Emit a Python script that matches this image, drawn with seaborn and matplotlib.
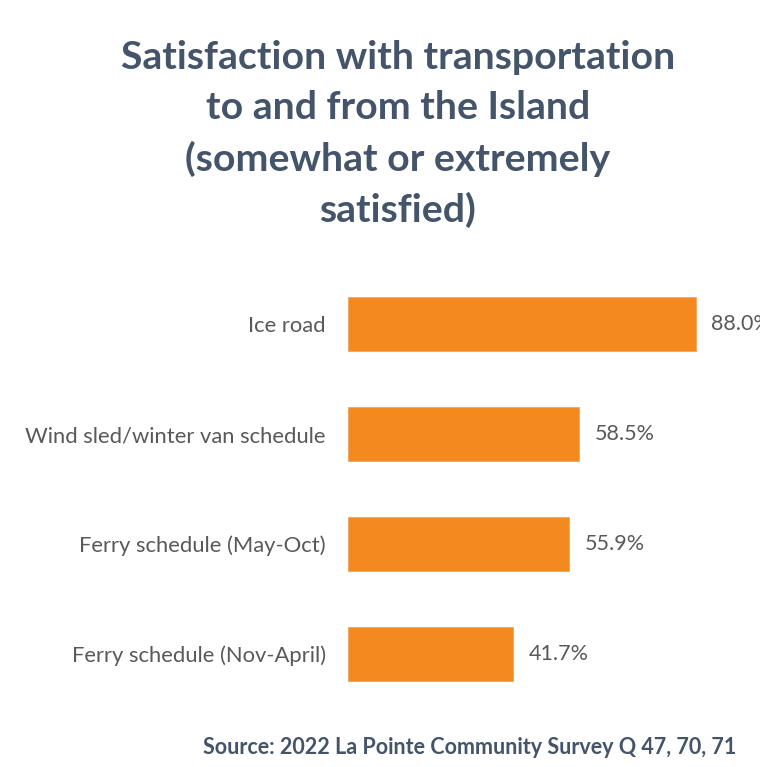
import matplotlib
matplotlib.use("Agg")
import matplotlib.pyplot as plt
import seaborn as sns
import pandas as pd

categories = ["Ice road", "Wind sled/winter van schedule",
              "Ferry schedule (May-Oct)", "Ferry schedule (Nov-April)"]
values = [88.0, 58.5, 55.9, 41.7]
title_text = ("Satisfaction with transportation\nto and from the Island\n"
              "(somewhat or extremely\nsatisfied)")
source_text = "Source: 2022 La Pointe Community Survey Q 47, 70, 71"

sns.set_theme(style="white")
plt.rcParams["font.family"] = ["Lato", "DejaVu Sans"]

df = pd.DataFrame({"category": categories, "value": values})

fig = plt.figure(figsize=(7.6, 7.67), dpi=100)
ax = fig.add_axes([348 / 760, 1 - 709 / 767, 395 / 760, 440 / 767])

sns.barplot(data=df, x="value", y="category", order=categories,
            color="#F4891F", saturation=1, width=0.49, ax=ax,
            edgecolor="#F6A25A", linewidth=0.6)

ax.set_xlim(0, 100)
ax.set_ylim(3.5, -0.5)
sns.despine(ax=ax, left=True, bottom=True)
ax.set_xticks([])
ax.set_xlabel("")
ax.set_ylabel("")
ax.tick_params(axis="y", length=0, pad=16, labelsize=15.8, labelcolor="#595959")

for i, v in enumerate(values):
    ax.text(v + 4.0, i, f"{v:.1f}%", va="center", ha="left",
            fontsize=15.5, color="#595959", clip_on=False)

fig.text(398 / 760, 1 - 134 / 767, title_text, ha="center", va="center",
         fontsize=28.3, fontweight="bold", color="#44546A", linespacing=1.52)
fig.text(470 / 760, 1 - 748 / 767, source_text, ha="center", va="center",
         fontsize=15.5, fontweight="bold", color="#44546A")

fig.savefig("out.png", dpi=100, facecolor="white")
